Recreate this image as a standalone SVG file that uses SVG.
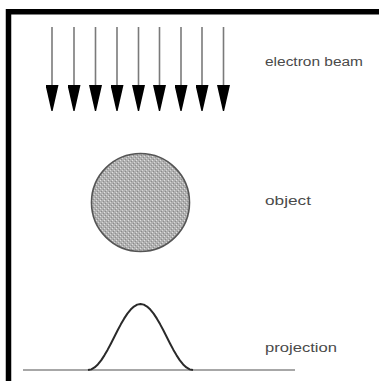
<svg xmlns="http://www.w3.org/2000/svg" width="379" height="381" viewBox="0 0 379 381">
  <style>
    .lbl { font-family: "Liberation Sans", Arial, sans-serif; font-size: 12px; fill: #4a4a4a; }
    .shaft { stroke: #7a7a7a; stroke-width: 1.6; fill: none; }
  </style>
  <defs>
    <marker id="head" viewBox="-6.5 0 13 26" markerWidth="13" markerHeight="26" refX="0" refY="0" markerUnits="userSpaceOnUse" orient="0">
      <path d="M-6.5,0 L6.5,0 L0.6,26 L-0.6,26 Z" fill="#000"/>
    </marker>
    <pattern id="stipple" width="4" height="4" patternUnits="userSpaceOnUse">
      <rect width="4" height="4" fill="#b0b0b0"/>
      <rect x="0" y="0" width="1" height="1" fill="#e0e0e0"/>
      <rect x="2" y="2" width="1" height="1" fill="#d6d6d6"/>
      <rect x="1" y="3" width="1" height="1" fill="#8a8a8a"/>
      <rect x="3" y="1" width="1" height="1" fill="#8e8e8e"/>
    </pattern>
  </defs>
  <rect width="379" height="381" fill="#fff"/>
  <path d="M8.5,381 V11.75 H379" fill="none" stroke="#000" stroke-width="5.5"/>

  <g id="connectors">
    <line class="shaft" x1="52" y1="27" x2="52" y2="85" marker-end="url(#head)"/>
    <line class="shaft" x1="74" y1="27" x2="74" y2="85" marker-end="url(#head)"/>
    <line class="shaft" x1="95.5" y1="27" x2="95.5" y2="85" marker-end="url(#head)"/>
    <line class="shaft" x1="117" y1="27" x2="117" y2="85" marker-end="url(#head)"/>
    <line class="shaft" x1="138.5" y1="27" x2="138.5" y2="85" marker-end="url(#head)"/>
    <line class="shaft" x1="159.5" y1="27" x2="159.5" y2="85" marker-end="url(#head)"/>
    <line class="shaft" x1="181" y1="27" x2="181" y2="85" marker-end="url(#head)"/>
    <line class="shaft" x1="202" y1="27" x2="202" y2="85" marker-end="url(#head)"/>
    <line class="shaft" x1="223.5" y1="27" x2="223.5" y2="85" marker-end="url(#head)"/>
  </g>

  <g id="beam">
    <text class="lbl" x="265" y="66" textLength="98" lengthAdjust="spacingAndGlyphs">electron beam</text>
  </g>

  <g id="object">
    <circle cx="140.5" cy="202.5" r="49" fill="url(#stipple)" stroke="#555" stroke-width="1.6"/>
    <text class="lbl" x="265" y="205" textLength="46" lengthAdjust="spacingAndGlyphs">object</text>
  </g>

  <g id="projection">
    <line x1="23" y1="370" x2="295" y2="370" stroke="#8a8a8a" stroke-width="1.6"/>
    <polyline fill="none" stroke="#2a2a2a" stroke-width="2" stroke-linejoin="round"
      points="88,370 91.28,369.37 94.56,367.49 97.84,364.44 101.13,360.33 104.41,355.33 107.69,349.63 110.97,343.44 114.25,337 117.53,330.56 120.81,324.37 124.09,318.67 127.38,313.67 130.66,309.56 133.94,306.51 137.22,304.63 140.5,304 143.78,304.63 147.06,306.51 150.34,309.56 153.63,313.67 156.91,318.67 160.19,324.37 163.47,330.56 166.75,337 170.03,343.44 173.31,349.63 176.59,355.33 179.88,360.33 183.16,364.44 186.44,367.49 189.72,369.37 193,370"/>
    <text class="lbl" x="265" y="352" textLength="72" lengthAdjust="spacingAndGlyphs">projection</text>
  </g>
</svg>
